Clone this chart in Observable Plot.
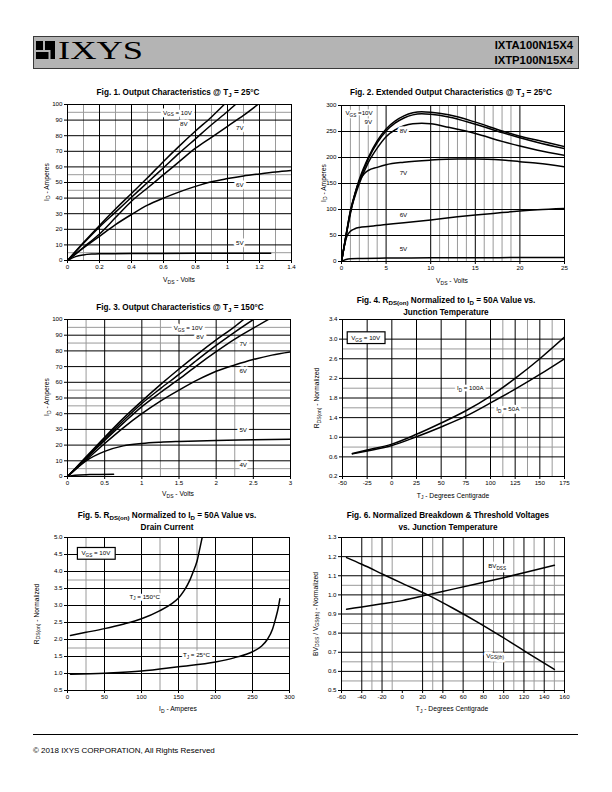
<!DOCTYPE html>
<html><head><meta charset="utf-8">
<script src="https://cdn.jsdelivr.net/npm/d3@7"></script>
<script src="https://cdn.jsdelivr.net/npm/@observablehq/plot@0.6"></script>
<style>
body{margin:0;background:#fff;}
#page{position:relative;width:612px;height:792px;overflow:hidden;background:#fff;}
text{white-space:pre;}
</style></head><body><div id="page"></div>
<script>
// ================= DATA =================
// Fig 1  Output characteristics @ 25C (VDS volts, ID amperes)
const f1XTicks = [0,0.2,0.4,0.6,0.8,1,1.2,1.4];
const f1YTicks = [0,10,20,30,40,50,60,70,80,90,100];
const f1MajorX = [0.2,0.4,0.6,0.8,1,1.2];
const f1MinorX = [0.1,0.3,0.5,0.7,0.9,1.1,1.3];
const f1MajorY = [10,20,30,40,50,60,70,80,90];
const f1MinorY = [5,45,55,95];
const f1V10 = [[0,0],[0.1,11.5],[0.2,22.5],[0.3,33],[0.4,43],[0.5,53],[0.6,63.5],[0.7,73.5],[0.8,83],[0.9,92],[0.98,100]];
const f1V8  = [[0,0],[0.1,11],[0.2,21.5],[0.3,31],[0.4,40.5],[0.5,50],[0.6,59.5],[0.7,69],[0.8,78],[0.9,87],[1.0,95.5],[1.05,100]];
const f1V7  = [[0,0],[0.1,8.5],[0.2,17],[0.3,27.5],[0.4,38],[0.5,46.5],[0.6,55],[0.7,63.5],[0.8,72],[0.9,79],[1.0,86],[1.1,93],[1.19,100]];
const f1V6  = [[0,0],[0.1,8],[0.2,15.5],[0.3,23],[0.4,29.5],[0.5,35.5],[0.6,40],[0.7,44],[0.8,47.5],[0.9,50.5],[1.0,52.5],[1.1,54.2],[1.2,55.5],[1.3,56.7],[1.4,57.7]];
const f1V5  = [[0,0],[0.05,2.5],[0.1,3.6],[0.15,4.1],[0.2,4.3],[0.4,4.5],[0.8,4.6],[1.27,4.7]];

// Fig 2  Extended output characteristics @ 25C
const f2XTicks = [0,5,10,15,20,25];
const f2YTicks = [0,50,100,150,200,250,300];
const f2MajorX = [5,10,15,20];
const f2MinorX = [1,2,3,4,11,12,13,14,16,17,18,19];
const f2MajorY = [50,100,150,200,250];
const f2MinorY = [];
const f2V10 = [[0,0],[0.5,50],[1,98],[1.5,130],[2,158],[3,200],[4,232],[5,255],[6,270],[7,280],[8,286],[9,288],[10,287],[12,282],[15,268],[18,251],[20,241],[22,233],[25,221]];
const f2V9  = [[0,0],[0.5,50],[1,97],[1.5,128],[2,155],[3,197],[4,228],[5,251],[6,266],[7,276],[8,282],[9,284],[10,283],[12,278],[15,264],[18,248],[20,238],[22,229],[25,217]];
const f2V8  = [[0,0],[0.5,48],[1,95],[1.5,125],[2,150],[3,190],[4,218],[5,240],[6,253],[7,261],[8,265],[9,266],[10,265],[12,258],[15,246],[18,231],[20,222],[22,214],[25,204]];
const f2V7  = [[0,0],[0.5,48],[1,92],[1.5,130],[2,155],[2.5,168],[3,175],[4,181],[5,186],[7,191],[10,195],[13,197],[15,197],[18,195],[20,192],[22,189],[25,182]];
const f2V6  = [[0,0],[0.3,28],[0.6,48],[1,58],[1.5,63],[2,65.5],[3,67.5],[5,71],[7,74.5],[10,80],[13,86],[15,89.5],[18,94],[20,97],[22,99.5],[25,102]];
const f2V5  = [[0,0],[0.5,4],[1,5.5],[2,6],[5,6.5],[10,7],[15,7.3],[20,7.5],[25,7.5]];

// Fig 3  Output characteristics @ 150C
const f3XTicks = [0,0.5,1,1.5,2,2.5,3];
const f3YTicks = [0,10,20,30,40,50,60,70,80,90,100];
const f3MajorX = [0.5,1,1.5,2,2.5];
const f3MinorX = [0.25,1.25,2.25];
const f3MajorY = [10,20,30,40,50,60,70,80,90];
const f3MinorY = [5,45,55,85,95];
const f3V10 = [[0,0],[0.25,12.5],[0.5,25],[0.75,37],[1,48],[1.25,58.5],[1.5,68.5],[1.75,78],[2,87],[2.25,95.5],[2.37,100]];
const f3V8  = [[0,0],[0.25,12],[0.5,24],[0.75,35.5],[1,46.5],[1.25,56],[1.5,65],[1.75,74.5],[2,83.5],[2.25,92],[2.5,100]];
const f3V7  = [[0,0],[0.25,11.5],[0.5,23],[0.75,34],[1,44.5],[1.25,53.5],[1.5,62],[1.75,71],[2,79.5],[2.25,87.5],[2.5,94.5],[2.7,100]];
const f3V6  = [[0,0],[0.25,10.5],[0.5,21],[0.75,31],[1,40],[1.25,48],[1.5,55],[1.75,61.5],[2,67],[2.25,71],[2.5,74.5],[2.75,77.3],[3,79.3]];
const f3V5  = [[0,0],[0.25,10],[0.5,16],[0.75,19.5],[1,21],[1.25,21.8],[1.5,22.3],[2,23],[2.5,23.4],[3,23.8]];
const f3V4  = [[0,0],[0.1,0.8],[0.3,1.2],[0.62,1.5]];

// Fig 4  RDS(on) normalized vs junction temperature
const f4XTicks = [-50,-25,0,25,50,75,100,125,150,175];
const f4YTicks = [0.2,0.6,1.0,1.4,1.8,2.2,2.6,3.0,3.4];
const f4MajorX = [-25,0,25,50,75,100,125,150];
const f4MinorX = [112.5,137.5,162.5];
const f4MajorY = [0.6,1.0,1.4,1.8,2.2,2.6,3.0];
const f4MinorY = [0.8,1.6,2.0,2.8];
const f4I100 = [[-40,0.67],[-25,0.74],[0,0.86],[25,1.06],[50,1.29],[75,1.54],[100,1.84],[125,2.2],[150,2.6],[175,3.04]];
const f4I50  = [[-40,0.66],[-25,0.72],[0,0.83],[25,1.01],[50,1.21],[75,1.43],[100,1.7],[125,1.98],[150,2.28],[175,2.6]];

// Fig 5  RDS(on) normalized vs drain current
const f5XTicks = [0,50,100,150,200,250,300];
const f5YTicks = [0.5,1.0,1.5,2.0,2.5,3.0,3.5,4.0,4.5,5.0];
const f5MajorX = [50,100,150,200,250];
const f5MinorX = [25,125,175];
const f5MajorY = [1,1.5,2,2.5,3,3.5,4,4.5];
const f5MinorY = [1.75,3.75];
const f5T150 = [[4,2.12],[25,2.21],[50,2.32],[75,2.45],[100,2.61],[125,2.85],[140,3.04],[150,3.22],[158,3.45],[165,3.73],[170,4.0],[175,4.3],[180,4.8],[182,5.0]];
const f5T25  = [[4,0.98],[50,1.01],[100,1.07],[150,1.2],[200,1.34],[225,1.46],[250,1.64],[262,1.8],[270,2.0],[277,2.3],[281,2.6],[285,2.95],[287,3.2]];

// Fig 6  Normalized breakdown & threshold voltages vs junction temperature
const f6XTicks = [-60,-40,-20,0,20,40,60,80,100,120,140,160];
const f6YTicks = [0.5,0.6,0.7,0.8,0.9,1.0,1.1,1.2,1.3];
const f6MajorX = [-40,-20,20,40,60,80,100,120,140];
const f6MinorX = [-30,-10,30,90,110,130,150];
const f6MajorY = [0.6,0.7,0.8,0.9,1.0,1.1,1.2];
const f6MinorY = [0.55,0.65,0.85,1.05];
const f6BVdss = [[-55,0.925],[-40,0.937],[-20,0.953],[0,0.97],[25,1.0],[50,1.03],[75,1.06],[100,1.09],[125,1.122],[150,1.155]];
const f6Vth   = [[-55,1.195],[-40,1.16],[-20,1.11],[0,1.06],[25,1.0],[50,0.93],[75,0.855],[100,0.775],[125,0.692],[150,0.61]];

// ================= DRAWING =================
const NS = "http://www.w3.org/2000/svg";
const FONT = "'Liberation Sans', Arial, Helvetica, sans-serif";
const page = document.getElementById("page");
const deco = document.createElementNS(NS, "svg");
deco.setAttribute("width", 612); deco.setAttribute("height", 792);
deco.style.position = "absolute"; deco.style.left = "0px"; deco.style.top = "0px";
page.appendChild(deco);

function el(parent, tag, attrs) {
  const e = document.createElementNS(NS, tag);
  for (const k in attrs) e.setAttribute(k, attrs[k]);
  parent.appendChild(e);
  return e;
}

function richOnce(parent, str, x, y, o, haloW) {
  const size = o.size || 6.5;
  const t = el(parent, "text", {x, y, "font-size": size, "font-family": o.family || FONT,
    "font-weight": o.weight || "normal", "text-anchor": o.anchor || "start", fill: haloW ? "#fff" : "#000"});
  if (o.rotate) t.setAttribute("transform", `rotate(${o.rotate} ${x} ${y})`);
  if (o.ls) t.setAttribute("letter-spacing", o.ls);
  if (o.len) { t.setAttribute("textLength", o.len); t.setAttribute("lengthAdjust", "spacingAndGlyphs"); }
  if (haloW) {
    t.setAttribute("stroke", "#fff"); t.setAttribute("stroke-width", haloW);
    t.setAttribute("stroke-linejoin", "round");
  }
  const parts = str.split(/(_\{[^}]*\})/);
  const sh = size * 0.28;
  let shifted = false;
  for (const p of parts) {
    if (!p) continue;
    const ts = document.createElementNS(NS, "tspan");
    if (p.startsWith("_{")) {
      ts.textContent = p.slice(2, -1);
      ts.setAttribute("font-size", size * 0.75);
      if (!shifted) { ts.setAttribute("dy", sh); shifted = true; }
    } else {
      ts.textContent = p;
      if (shifted) { ts.setAttribute("dy", -sh); shifted = false; }
    }
    t.appendChild(ts);
  }
  return t;
}
function rich(parent, str, x, y, o = {}) {
  if (o.halo) richOnce(parent, str, x, y, o, o.halo);
  return richOnce(parent, str, x, y, o, 0);
}

function chart(cfg) {
  const mL = 28, mR = 6, mT = 4, mB = 14;
  const W = cfg.R - cfg.L, H = cfg.B - cfg.T;
  const svg = Plot.plot({
    width: W + mL + mR, height: H + mT + mB,
    marginLeft: mL, marginRight: mR, marginTop: mT, marginBottom: mB,
    style: {background: "transparent", fontFamily: FONT, fontSize: "6.2px", maxWidth: "none", overflow: "visible", color: "#000"},
    x: {domain: cfg.xDomain, ticks: cfg.xTicks, tickSize: 3, tickPadding: 1.5, tickFormat: cfg.xFmt || (d => String(d)), label: null},
    y: {domain: cfg.yDomain, ticks: cfg.yTicks, tickSize: 3, tickPadding: 2, tickFormat: cfg.yFmt || (d => String(d)), label: null},
    marks: [
      Plot.ruleX(cfg.minorX, {stroke: "#9a9a9a", strokeWidth: 1}),
      Plot.ruleY(cfg.minorY, {stroke: "#9a9a9a", strokeWidth: 1}),
      Plot.ruleX(cfg.majorX, {stroke: "#000", strokeWidth: 1}),
      Plot.ruleY(cfg.majorY, {stroke: "#000", strokeWidth: 1}),
      ...cfg.series.map(s => Plot.line(s, {x: d => d[0], y: d => d[1], stroke: "#000", strokeWidth: 1.5, curve: "monotone-x", clip: true})),
      Plot.frame({stroke: "#000", strokeWidth: 1})
    ]
  });
  svg.style.position = "absolute";
  svg.style.left = (cfg.L - mL) + "px";
  svg.style.top = (cfg.T - mT) + "px";
  page.appendChild(svg);
  const sx = svg.scale("x"), sy = svg.scale("y");
  const g = el(svg, "g", {});
  for (const lb of cfg.labels) {
    const size = 6.2;
    const px = sx.apply(lb.x), py = sy.apply(lb.y) + size * 0.35;
    const t = rich(g, lb.t, px, py, {size, anchor: lb.anchor || "middle", halo: lb.box ? 0 : (lb.halo === undefined ? 5 : lb.halo)});
    if (lb.box) {
      const b = t.getBBox();
      const r = document.createElementNS(NS, "rect");
      r.setAttribute("x", b.x - 4); r.setAttribute("y", b.y - 2);
      r.setAttribute("width", b.width + 8); r.setAttribute("height", b.height + 3);
      r.setAttribute("fill", "#fff"); r.setAttribute("stroke", "#000"); r.setAttribute("stroke-width", 1.2);
      g.insertBefore(r, t);
    }
  }
}

// ---- header ----
const HB = "#b4b4b4";
el(deco, "rect", {x: 33.5, y: 36.5, width: 545, height: 32, fill: HB, stroke: "#3a3a3a", "stroke-width": 1});
el(deco, "rect", {x: 36, y: 41, width: 19, height: 18, fill: "#000"});
el(deco, "rect", {x: 43, y: 41, width: 2, height: 9.5, fill: HB});
el(deco, "rect", {x: 36, y: 50, width: 14, height: 2, fill: HB});
el(deco, "rect", {x: 48.5, y: 50, width: 2, height: 9, fill: HB});
rich(deco, "IXYS", 58, 59, {size: 26, family: "'Liberation Serif', 'Times New Roman', serif", len: 85});
rich(deco, "IXTA100N15X4", 573, 48.5, {size: 11.3, weight: "bold", anchor: "end"});
rich(deco, "IXTP100N15X4", 573, 63.5, {size: 11.3, weight: "bold", anchor: "end"});

// ---- figure titles ----
const TS = 8.2;
rich(deco, "Fig. 1. Output Characteristics @ T_{J} = 25°C", 178, 95, {size: TS, weight: "bold", anchor: "middle"});
rich(deco, "Fig. 2. Extended Output Characteristics @ T_{J} = 25°C", 451, 95, {size: TS, weight: "bold", anchor: "middle"});
rich(deco, "Fig. 3. Output Characteristics @ T_{J} = 150°C", 180, 310, {size: TS, weight: "bold", anchor: "middle"});
rich(deco, "Fig. 4. R_{DS(on)} Normalized to I_{D} = 50A Value vs.", 446, 303, {size: TS, weight: "bold", anchor: "middle"});
rich(deco, "Junction Temperature", 446, 315, {size: TS, weight: "bold", anchor: "middle"});
rich(deco, "Fig. 5. R_{DS(on)} Normalized to I_{D} = 50A Value vs.", 167, 518, {size: TS, weight: "bold", anchor: "middle"});
rich(deco, "Drain Current", 167, 530, {size: TS, weight: "bold", anchor: "middle"});
rich(deco, "Fig. 6. Normalized Breakdown & Threshold Voltages", 448, 518, {size: TS, weight: "bold", anchor: "middle"});
rich(deco, "vs. Junction Temperature", 448, 530, {size: TS, weight: "bold", anchor: "middle"});

// ---- axis titles ----
const AS = 6.7;
rich(deco, "V_{DS} - Volts", 179, 282, {size: AS, anchor: "middle"});
rich(deco, "I_{D} - Amperes", 48.5, 182, {size: AS, anchor: "middle", rotate: -90});
rich(deco, "V_{DS} - Volts", 452, 283, {size: AS, anchor: "middle"});
rich(deco, "I_{D} - Amperes", 325.5, 183, {size: AS, anchor: "middle", rotate: -90});
rich(deco, "V_{DS} - Volts", 178, 496, {size: AS, anchor: "middle"});
rich(deco, "I_{D} - Amperes", 49, 397, {size: AS, anchor: "middle", rotate: -90});
rich(deco, "T_{J} - Degrees Centigrade", 453, 497.5, {size: AS, anchor: "middle"});
rich(deco, "R_{DS(on)} - Normalized", 319, 398, {size: AS, anchor: "middle", rotate: -90});
rich(deco, "I_{D} - Amperes", 178, 711, {size: AS, anchor: "middle"});
rich(deco, "R_{DS(on)} - Normalized", 38.5, 614, {size: AS, anchor: "middle", rotate: -90});
rich(deco, "T_{J} - Degrees Centigrade", 452, 711, {size: AS, anchor: "middle"});
rich(deco, "BV_{DSS} / V_{GS(th)} - Normalized", 317.5, 614, {size: AS, anchor: "middle", rotate: -90});

// ---- footer ----
el(deco, "line", {x1: 33, x2: 578, y1: 734.5, y2: 734.5, stroke: "#000", "stroke-width": 1});
rich(deco, "© 2018 IXYS CORPORATION, All Rights Reserved", 33, 753, {size: 8});

// ---- charts ----
chart({L: 67, T: 104, R: 291, B: 260, xDomain: [0, 1.4], yDomain: [0, 100],
  xTicks: f1XTicks, yTicks: f1YTicks, majorX: f1MajorX, minorX: f1MinorX, majorY: f1MajorY, minorY: f1MinorY,
  series: [f1V10, f1V8, f1V7, f1V6, f1V5],
  labels: [
    {t: "V_{GS} = 10V", x: 0.69, y: 94.5}, {t: "8V", x: 0.73, y: 87.5},
    {t: "7V", x: 1.08, y: 85}, {t: "6V", x: 1.08, y: 48}, {t: "5V", x: 1.08, y: 10.7}]});

chart({L: 341, T: 105, R: 564, B: 261, xDomain: [0, 25], yDomain: [0, 300],
  xTicks: f2XTicks, yTicks: f2YTicks, majorX: f2MajorX, minorX: f2MinorX, majorY: f2MajorY, minorY: f2MinorY,
  series: [f2V10, f2V9, f2V8, f2V7, f2V6, f2V5],
  labels: [
    {t: "V_{GS} =10V", x: 0.5, y: 284, anchor: "start", halo: 3}, {t: "9V", x: 3.06, y: 268, halo: 3},
    {t: "8V", x: 7, y: 250}, {t: "7V", x: 7, y: 169}, {t: "6V", x: 7, y: 88}, {t: "5V", x: 7, y: 22.5}]});

chart({L: 67, T: 319, R: 290, B: 476, xDomain: [0, 3], yDomain: [0, 100],
  xTicks: f3XTicks, yTicks: f3YTicks, majorX: f3MajorX, minorX: f3MinorX, majorY: f3MajorY, minorY: f3MinorY,
  series: [f3V10, f3V8, f3V7, f3V6, f3V5, f3V4],
  labels: [
    {t: "V_{GS} = 10V", x: 1.63, y: 94.5}, {t: "8V", x: 1.79, y: 88.7},
    {t: "7V", x: 2.37, y: 84}, {t: "6V", x: 2.37, y: 67}, {t: "5V", x: 2.37, y: 29.5}, {t: "4V", x: 2.37, y: 7}]});

chart({L: 342, T: 319, R: 564, B: 476, xDomain: [-50, 175], yDomain: [0.2, 3.4],
  xTicks: f4XTicks, yTicks: f4YTicks, yFmt: d => d.toFixed(1),
  majorX: f4MajorX, minorX: f4MinorX, majorY: f4MajorY, minorY: f4MinorY,
  series: [f4I100, f4I50],
  labels: [
    {t: "V_{GS} = 10V", x: -26, y: 3.02, box: true},
    {t: "I_{D} = 100A", x: 80, y: 2.0}, {t: "I_{D} = 50A", x: 118, y: 1.57}]});

chart({L: 67, T: 537, R: 289, B: 690, xDomain: [0, 300], yDomain: [0.5, 5.0],
  xTicks: f5XTicks, yTicks: f5YTicks, yFmt: d => d.toFixed(1),
  majorX: f5MajorX, minorX: f5MinorX, majorY: f5MajorY, minorY: f5MinorY,
  series: [f5T150, f5T25],
  labels: [
    {t: "V_{GS} = 10V", x: 39, y: 4.52, box: true},
    {t: "T_{J} = 150°C", x: 105, y: 3.25}, {t: "T_{J} = 25°C", x: 175, y: 1.53}]});

chart({L: 341, T: 537, R: 564, B: 690, xDomain: [-60, 160], yDomain: [0.5, 1.3],
  xTicks: f6XTicks, yTicks: f6YTicks, yFmt: d => d.toFixed(1),
  majorX: f6MajorX, minorX: f6MinorX, majorY: f6MajorY, minorY: f6MinorY,
  series: [f6BVdss, f6Vth],
  labels: [
    {t: "BV_{DSS}", x: 94, y: 1.148}, {t: "V_{GS(th)}", x: 92, y: 0.68}]});
</script></body></html>
